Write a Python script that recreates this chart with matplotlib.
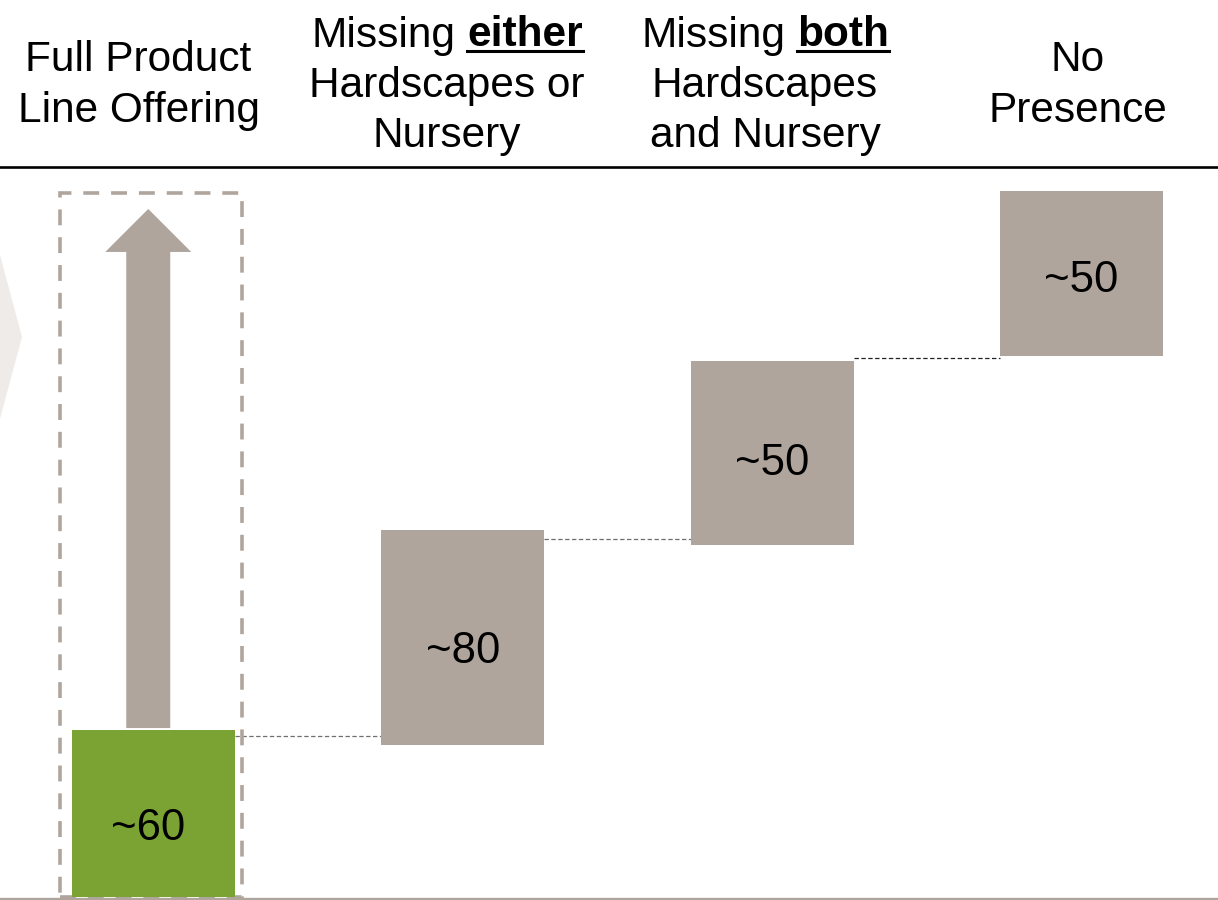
import matplotlib
matplotlib.use("Agg")
import matplotlib.pyplot as plt
from matplotlib.patches import Rectangle, Polygon
from matplotlib.lines import Line2D

# ---------------- data ----------------
categories = ["Full Product Line Offering",
              "Missing either Hardscapes or Nursery",
              "Missing both Hardscapes and Nursery",
              "No Presence"]
bar_bottoms = [0.0, 54.6, 126.5, 194.2]
bar_heights = [60.0, 77.3, 66.1, 59.6]
value_labels = ["~60", "~80", "~50", "~50"]
connector_levels = [57.9, 128.7, 193.8]
arrow_start, arrow_end = 60.7, 247.2
box_top = 253.1

# header lines: (text pieces) - second piece is bold + underlined
header_lines = [
    [["Full Product"], ["Line Offering"]],
    [["Missing ", "either"], ["Hardscapes or"], ["Nursery"]],
    [["Missing ", "both"], ["Hardscapes"], ["and Nursery"]],
    [["No"], ["Presence"]],
]

# ---------------- layout ----------------
W, H = 1218, 900
FONT = "Liberation Sans"
TAUPE = "#b0a59c"
GREEN = "#7aa333"
plt.rcParams['font.family'] = [FONT, 'DejaVu Sans']

fig = plt.figure(figsize=(W / 100, H / 100), dpi=100)
ax = fig.add_axes([0, 0, 1, 1])
ax.axis('off')

PX_CAT = 309.3
X0 = 153.5
PPU = 167.0 / 60.0
BASE = 897.0
ax.set_xlim(-X0 / PX_CAT, (W - X0) / PX_CAT)
ax.set_ylim(-(H - BASE) / PPU, BASE / PPU)

xs = list(range(len(categories)))
bw = 163.0 / PX_CAT
colors = [GREEN] + [TAUPE] * 3
ax.bar(xs, bar_heights, bottom=bar_bottoms, width=bw, color=colors,
       edgecolor='none', zorder=3)

label_offsets = [-11.0, -10.3, -7.4, -5.3]
for i, lab in enumerate(value_labels):
    yc = bar_bottoms[i] + bar_heights[i] / 2
    dx = -0.017 if i == 0 else 0
    ax.annotate(lab, (xs[i] + dx, yc), xytext=(0, label_offsets[i]),
                textcoords='offset points',
                ha='center', va='center', fontsize=31.5, color='black', zorder=5)

# connectors
conn_colors = ["#6f6f6f", "#6f6f6f", "#222222"]
for i, lvl in enumerate(connector_levels):
    ax.plot([xs[i] + bw / 2, xs[i + 1] - bw / 2], [lvl, lvl],
            color=conn_colors[i], lw=0.9, linestyle=(0, (3.5, 2.0)), zorder=2)

# dashed box around first column
bx0 = (60 - X0) / PX_CAT
bx1 = (242 - X0) / PX_CAT
ax.add_patch(Rectangle((bx0, 0), bx1 - bx0, box_top, fill=False,
                       edgecolor=TAUPE, lw=2.6, linestyle=(0, (4.4, 3.3)),
                       zorder=2, clip_on=False))

# up arrow
shaft_w = 44.0 / PX_CAT
head_w = 86.0 / PX_CAT
head_len = 43.0 / PPU
ax0 = xs[0] - 0.017
pts = [(ax0 - shaft_w / 2, arrow_start), (ax0 + shaft_w / 2, arrow_start),
       (ax0 + shaft_w / 2, arrow_end - head_len), (ax0 + head_w / 2, arrow_end - head_len),
       (ax0, arrow_end), (ax0 - head_w / 2, arrow_end - head_len),
       (ax0 - shaft_w / 2, arrow_end - head_len)]
ax.add_patch(Polygon(pts, closed=True, facecolor=TAUPE, edgecolor='none', zorder=3))

# ---------------- figure decorations ----------------
def fx(px):
    return px / W

def fy(py):
    return 1 - py / H

# left chevron tip
fig.patches.append(Polygon([(fx(0), fy(255)), (fx(22), fy(337)), (fx(0), fy(419))],
                           closed=True, facecolor="#efebe8", edgecolor='none',
                           transform=fig.transFigure, figure=fig, zorder=0))

# header rule and baseline
fig.lines.append(Line2D([0, 1], [fy(167.3), fy(167.3)], color='black', lw=1.9,
                        transform=fig.transFigure, figure=fig))
fig.lines.append(Line2D([0, 1], [fy(898.5), fy(898.5)], color=TAUPE, lw=2.4,
                        transform=fig.transFigure, figure=fig))

# headers
col_centers = [138.5, 447.0, 765.0, 1078.0]
baselines = {2: [71.0, 122.0], 3: [46.5, 97.0, 147.0]}
HFS = 30.5
renderer = fig.canvas.get_renderer()
for c, lines in enumerate(header_lines):
    bls = baselines[len(lines)]
    for li, pieces in enumerate(lines):
        y = fy(bls[li])
        if len(pieces) == 1:
            fig.text(fx(col_centers[c]), y, pieces[0], ha='center', va='baseline',
                     fontsize=HFS)
        else:
            t1 = fig.text(0, y, pieces[0].rstrip(), ha='left', va='baseline', fontsize=HFS)
            t2 = fig.text(0, y, pieces[1], ha='left', va='baseline', fontsize=HFS,
                          fontweight='bold')
            w1 = t1.get_window_extent(renderer).width
            w2 = t2.get_window_extent(renderer).width
            sp = 0.278 * HFS * 100 / 72
            total = w1 + sp + w2
            left = col_centers[c] - total / 2
            t1.set_x(fx(left))
            t2.set_x(fx(left + w1 + sp))
            ul = bls[li] + 4.5
            fig.lines.append(Line2D([fx(left + w1 + sp), fx(left + total)], [fy(ul), fy(ul)],
                                    color='black', lw=2.2, transform=fig.transFigure,
                                    figure=fig))

fig.savefig("out.png", dpi=100)
